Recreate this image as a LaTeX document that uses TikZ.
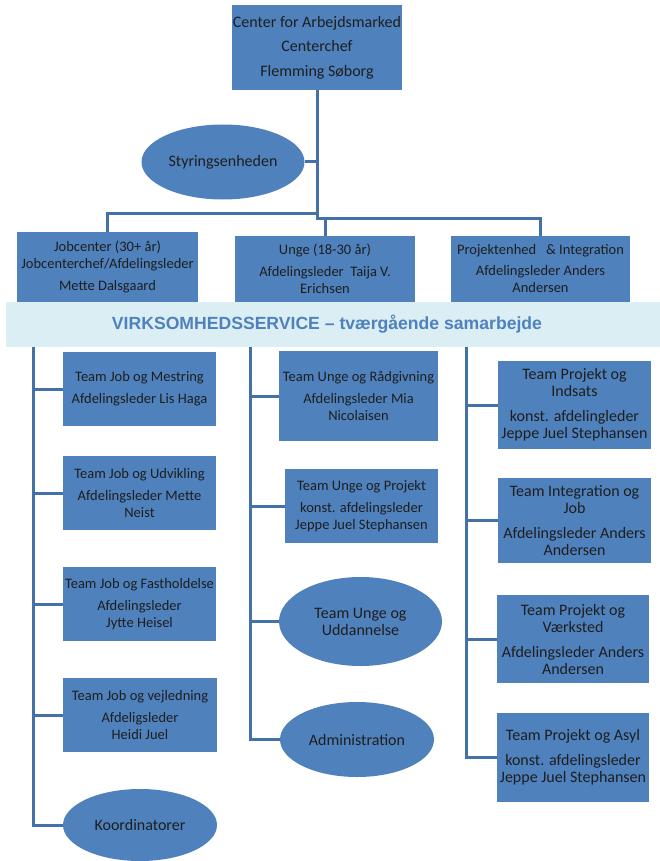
\documentclass[tikz,border=0pt]{standalone}
\usepackage{fontspec}
\setmainfont{Carlito}
\newfontfamily\bandfont{Liberation Sans}
\usetikzlibrary{shapes.geometric}
\definecolor{boxblue}{RGB}{79,129,189}
\definecolor{lineblue}{RGB}{68,114,168}
\definecolor{boxtext}{RGB}{30,30,30}
\definecolor{bandfill}{RGB}{218,238,243}
\tikzset{
  unitbox/.style={rectangle, fill=boxblue, text=boxtext, inner sep=0pt, align=center, font=\fontsize{14.5}{17}\selectfont},
  bigbox/.style={unitbox, font=\fontsize{16}{17}\selectfont},
  unitoval/.style={ellipse, fill=boxblue, text=boxtext, inner sep=0pt, align=center, font=\fontsize{16}{17}\selectfont},
  conn/.style={draw=lineblue, line width=3pt}
}
\begin{document}
\begin{tikzpicture}[x=1pt,y=-1pt]
\useasboundingbox (0,0) rectangle (660,861);
% top
\node[unitbox, font=\fontsize{16}{24.5}\selectfont, minimum width=170pt, minimum height=85pt] (top) at (317,47.5) {Center for Arbejdsmarked\\Centerchef\\Flemming Søborg};
\node[unitoval, minimum width=163pt, minimum height=75pt] (styr) at (223,162) {Styringsenheden};
% row 2
\node[unitbox, minimum width=181pt, minimum height=70pt] (jc) at (107.5,267) {Jobcenter (30+ år)\\Jobcenterchef/Afdelingsleder\\[5pt]Mette Dalsgaard};
\node[unitbox, minimum width=180pt, minimum height=66pt] (unge) at (325,269) {Unge (18-30 år)\\[5pt]Afdelingsleder~~Taija V.\\Erichsen};
\node[unitbox, minimum width=179pt, minimum height=66pt] (pj) at (540.5,269) {Projektenhed~~~\&~Integration\\[4pt]Afdelingsleder Anders\\Andersen};
% connectors top
\draw[conn] (top.south) |- (pj.north |- 0,218) -- (pj.north);
\draw[conn] (jc.north) |- (top.south |- 0,213);
\draw[conn] (unge.north) -- (unge.north |- 0,218);
\draw[conn] (styr.east) -- (top.south |- styr.east);
% band
\node[rectangle, fill=bandfill, text=boxblue, inner sep=0pt, minimum width=654pt, minimum height=45pt, font=\bandfont\bfseries\fontsize{17.6}{20}\selectfont] (band) at (333,324.5) {VIRKSOMHEDSSERVICE – tværgående samarbejde\kern12pt};
% left column
\node[unitbox, minimum width=153pt, minimum height=74pt] (m1) at (139.5,389) {Team Job og Mestring\\[5pt]Afdelingsleder Lis Haga};
\node[unitbox, minimum width=153pt, minimum height=74pt] (m2) at (139.5,493) {Team Job og Udvikling\\[5pt]Afdelingsleder Mette\\Neist};
\node[unitbox, minimum width=153pt, minimum height=74pt] (m3) at (139.5,604) {Team Job og Fastholdelse\\[5pt]Afdelingsleder\\Jytte Heisel};
\node[unitbox, minimum width=154pt, minimum height=74pt] (m4) at (140,715) {Team Job og vejledning\\[5pt]Afdeligsleder\\Heidi Juel};
\node[unitoval, minimum width=154pt, minimum height=72pt] (koord) at (140,825) {Koordinatorer};
\draw[conn] (band.south -| 33,0) |- (koord.west);
\foreach \n in {m1,m2,m3,m4} \draw[conn] (\n.west) -- (\n.west -| 33,0);
% middle column
\node[unitbox, minimum width=159pt, minimum height=90pt] (u1) at (358.5,396) {Team Unge og Rådgivning\\[5pt]Afdelingsleder Mia\\Nicolaisen};
\node[unitbox, minimum width=153pt, minimum height=74pt] (u2) at (361.5,506) {Team Unge og Projekt\\[5pt]konst. afdelingsleder\\Jeppe Juel Stephansen};
\node[unitoval, minimum width=163pt, minimum height=89pt] (u3) at (360.5,621.5) {Team Unge og\\Uddannelse};
\node[unitoval, minimum width=154pt, minimum height=75pt] (u4) at (357,739.5) {Administration};
\draw[conn] (band.south -| 250,0) |- (u4.west);
\foreach \n in {u1,u2,u3} \draw[conn] (\n.west) -- (\n.west -| 250,0);
% right column
\node[bigbox, minimum width=153pt, minimum height=88pt] (p1) at (574.5,405) {Team Projekt og\\Indsats\\[8pt]konst. afdelingleder\\Jeppe Juel Stephansen};
\node[bigbox, minimum width=153pt, minimum height=85pt] (p2) at (574.5,520.5) {Team Integration og\\Job\\[8pt]Afdelingsleder Anders\\Andersen};
\node[bigbox, minimum width=152pt, minimum height=88pt] (p3) at (573,639) {Team Projekt og\\Værksted\\[8pt]Afdelingsleder Anders\\Andersen};
\node[bigbox, minimum width=152pt, minimum height=89pt] (p4) at (573,757.5) {Team Projekt og Asyl\\[8pt]konst. afdelingsleder\\Jeppe Juel Stephansen};
\draw[conn] (band.south -| 466,0) |- (p4.west);
\foreach \n in {p1,p2,p3} \draw[conn] (\n.west) -- (\n.west -| 466,0);
\end{tikzpicture}
\end{document}
